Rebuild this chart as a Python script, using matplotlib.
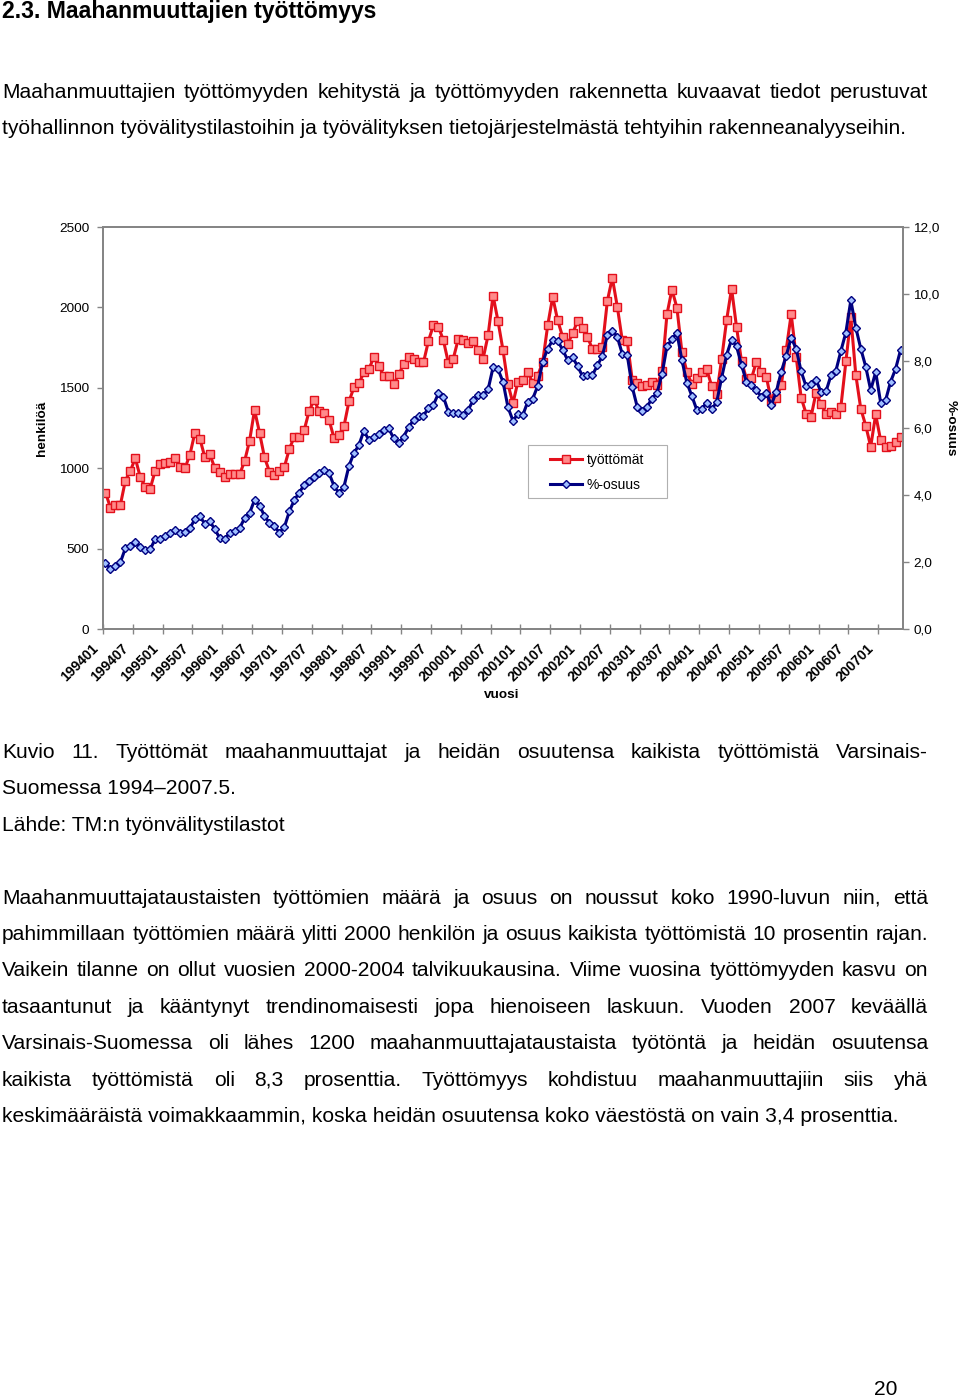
import matplotlib
matplotlib.use("Agg")
import matplotlib.pyplot as plt
from matplotlib.patches import Rectangle
from matplotlib.transforms import ScaledTranslation

plt.rcParams['font.family'] = ['Liberation Sans', 'DejaVu Sans']

# ---------------- data ----------------
tick_labels = ['199401', '199407', '199501', '199507', '199601', '199607', '199701',
               '199707', '199801', '199807', '199901', '199907', '200001', '200007',
               '200101', '200107', '200201', '200207', '200301', '200307', '200401',
               '200407', '200501', '200507', '200601', '200607', '200701']

# työttömät (henkilöä), monthly 1994/01 - 2007/05
unemployed = [
    848, 755, 772, 772, 923, 983, 1062, 944, 884, 873, 984, 1026,          # 1994
    1031, 1041, 1062, 1005, 1000, 1085, 1222, 1183, 1068, 1087, 1000, 975,  # 1995
    948, 962, 962, 962, 1044, 1171, 1362, 1221, 1067, 979, 958, 983,       # 1996
    1008, 1119, 1196, 1194, 1238, 1357, 1426, 1353, 1341, 1300, 1186, 1207,  # 1997
    1262, 1415, 1502, 1527, 1596, 1614, 1691, 1635, 1575, 1575, 1523, 1583,  # 1998
    1645, 1693, 1678, 1658, 1658, 1792, 1889, 1879, 1796, 1656, 1682, 1803,  # 1999
    1796, 1780, 1790, 1738, 1682, 1827, 2074, 1914, 1734, 1523, 1403, 1538,  # 2000
    1548, 1596, 1531, 1575, 1662, 1889, 2065, 1920, 1817, 1771, 1838, 1914,  # 2001
    1869, 1817, 1740, 1740, 1755, 2040, 2184, 2005, 1796, 1790, 1550, 1530,  # 2002
    1514, 1520, 1538, 1517, 1603, 1958, 2111, 1998, 1724, 1600, 1523, 1561,  # 2003
    1597, 1614, 1511, 1460, 1678, 1920, 2117, 1877, 1665, 1555, 1558, 1662,  # 2004
    1600, 1569, 1415, 1434, 1517, 1738, 1958, 1693, 1439, 1339, 1320, 1470,  # 2005
    1398, 1339, 1348, 1336, 1382, 1664, 1940, 1581, 1370, 1265, 1134, 1334,  # 2006
    1173, 1134, 1136, 1162, 1194,                                          # 2007
]

# %-osuus (share of all unemployed), monthly 1994/01 - 2007/05
share = [
    1.97, 1.79, 1.89, 1.99, 2.41, 2.48, 2.59, 2.46, 2.36, 2.38, 2.68, 2.68,
    2.78, 2.86, 2.96, 2.88, 2.91, 3.01, 3.28, 3.36, 3.14, 3.21, 2.98, 2.71,
    2.68, 2.88, 2.94, 3.01, 3.31, 3.46, 3.85, 3.68, 3.38, 3.16, 3.06, 2.88,
    3.04, 3.51, 3.85, 4.07, 4.31, 4.43, 4.55, 4.65, 4.75, 4.65, 4.27, 4.05,
    4.25, 4.87, 5.25, 5.49, 5.92, 5.64, 5.72, 5.82, 5.94, 5.99, 5.69, 5.54,
    5.74, 6.02, 6.24, 6.36, 6.36, 6.61, 6.69, 7.03, 6.93, 6.49, 6.44, 6.44,
    6.39, 6.54, 6.83, 6.98, 6.98, 7.15, 7.81, 7.75, 7.38, 6.62, 6.22, 6.42,
    6.39, 6.79, 6.88, 7.26, 7.98, 8.37, 8.62, 8.60, 8.34, 8.03, 8.11, 7.85,
    7.55, 7.58, 7.58, 7.87, 8.15, 8.77, 8.90, 8.73, 8.21, 8.18, 7.23, 6.64,
    6.51, 6.64, 6.88, 7.05, 7.60, 8.44, 8.65, 8.84, 8.03, 7.35, 6.96, 6.54,
    6.57, 6.76, 6.56, 6.77, 7.50, 8.18, 8.64, 8.44, 7.88, 7.38, 7.28, 7.13,
    6.93, 7.05, 6.69, 7.08, 7.68, 8.16, 8.69, 8.37, 7.69, 7.24, 7.30, 7.43,
    7.08, 7.09, 7.57, 7.71, 8.30, 8.85, 9.81, 9.00, 8.37, 7.83, 7.13, 7.67,
    6.76, 6.83, 7.38, 7.76, 8.32,
]

left_ticks = [0, 500, 1000, 1500, 2000, 2500]
right_ticks = [0, 2, 4, 6, 8, 10, 12]

# ---------------- figure ----------------
W, H = 960, 1399
fig = plt.figure(figsize=(W / 100, H / 100), dpi=100)
fig.patch.set_facecolor('white')

def px(x, y):
    return x / W, 1 - y / H

ax_l, ax_r, ax_t, ax_b = 103, 903, 227, 629
ax = fig.add_axes([ax_l / W, 1 - ax_b / H, (ax_r - ax_l) / W, (ax_b - ax_t) / H])
ax2 = ax.twinx()

n = len(unemployed)
xs = list(range(n))

red_line = '#e3101c'
red_face = '#ff8a8a'
navy = '#000080'
blue_face = '#9fbfff'

l1, = ax.plot(xs, unemployed, color=red_line, lw=2.2, marker='s', ms=5.8,
              mfc=red_face, mec=red_line, mew=1.0, label='työttömät')
l2, = ax2.plot(xs, share, color=navy, lw=2.2, marker='D', ms=4.4,
               mfc=blue_face, mec=navy, mew=1.0, label='%-osuus')

grey = '#858585'
for a in (ax, ax2):
    for s in a.spines.values():
        s.set_color(grey)
        s.set_linewidth(1.3)

ax.set_yticks(left_ticks)
ax.set_yticklabels([str(v) for v in left_ticks])
ax2.set_yticks(right_ticks)
ax2.set_yticklabels([f"{v:.1f}".replace('.', ',') for v in right_ticks])

ax.tick_params(axis='y', direction='out', length=4, width=1, color=grey,
               labelsize=9.7, pad=6)
ax2.tick_params(axis='y', direction='out', length=4, width=1, color=grey,
                labelsize=9.7, pad=3.5)

# tick marks between categories, labels every 6 months
ax.set_xticks([6 * k - 0.5 for k in range(len(tick_labels) + 1)])
ax.set_xticklabels([])
ax.tick_params(axis='x', which='major', direction='inout', length=7, width=1, color=grey)
ax.set_xticks([6 * k for k in range(len(tick_labels))], minor=True)
ax.set_xticklabels(tick_labels, minor=True, rotation=45, ha='right', va='center',
                   rotation_mode='anchor', fontsize=10, fontweight='bold')
ax.tick_params(axis='x', which='minor', length=0, pad=12.5)
shift = ScaledTranslation(-9 / 100, 0, fig.dpi_scale_trans)
for lab in ax.get_xticklabels(minor=True):
    lab.set_transform(lab.get_transform() + shift)

ax.set_xlim(-0.5, n - 0.5)
ax.set_ylim(0, 2500)
ax2.set_ylim(0, 12)

fig.text(*px(502, 695), 'vuosi', ha='center', va='center', fontsize=9.7, fontweight='bold')
fig.text(*px(42, 428), 'henkilöä', ha='center', va='center', rotation=90,
         fontsize=9.7, fontweight='bold')
fig.text(*px(951, 428), '%-osuus', ha='center', va='center', rotation=270,
         fontsize=9.7, fontweight='bold')

# legend: frame drawn as a rectangle, entries placed inside
frame = Rectangle(px(528, 498), (667 - 528) / W, (498 - 445) / H,
                  transform=fig.transFigure, fill=True, facecolor='white',
                  edgecolor='#b0b0b0', linewidth=0.8, zorder=4)
ax2.add_patch(frame)
leg = ax2.legend(handles=[l1, l2], loc='upper left',
                 bbox_to_anchor=px(550, 453), bbox_transform=fig.transFigure,
                 fontsize=10, frameon=False, handlelength=2.3,
                 borderpad=0.0, labelspacing=0.8, handletextpad=0.35, borderaxespad=0)
leg.set_zorder(6)

# ---------------- page text ----------------
r = fig.canvas.get_renderer()

def width_of(s, fs, weight='normal'):
    t = fig.text(0, 0, s, fontsize=fs, fontweight=weight)
    w = t.get_window_extent(r).width
    t.remove()
    return w

ref = "työhallinnon työvälitystilastoihin ja työvälityksen tietojärjestelmästä tehtyihin rakenneanalyyseihin."
fs_body = 10 * 908 / width_of(ref, 10)
title = "2.3. Maahanmuuttajien työttömyys"
fs_title = 10 * 376 / width_of(title, 10, 'bold')

X0, X1 = 2, 928

def line(s, yc, justify=False, fs=None, weight='normal'):
    fs = fs or fs_body
    yb = yc + 0.33 * fs * 100 / 72
    if not justify:
        fig.text(*px(X0, yb), s, fontsize=fs, fontweight=weight, va='baseline', ha='left')
        return
    words = s.split(' ')
    ws = [width_of(w, fs, weight) for w in words]
    gap = (X1 - X0 - sum(ws)) / (len(words) - 1)
    x = X0
    for w, wd in zip(words, ws):
        fig.text(*px(x, yb), w, fontsize=fs, fontweight=weight, va='baseline', ha='left')
        x += wd + gap

line(title, 10, fs=fs_title, weight='bold')

line("Maahanmuuttajien työttömyyden kehitystä ja työttömyyden rakennetta kuvaavat tiedot perustuvat", 91, True)
line(ref, 127)

line("Kuvio 11. Työttömät maahanmuuttajat ja heidän osuutensa kaikista työttömistä Varsinais-", 751, True)
line("Suomessa 1994–2007.5.", 787)
line("Lähde: TM:n työnvälitystilastot", 824)

p2 = [
    ("Maahanmuuttajataustaisten työttömien määrä ja osuus on noussut koko 1990-luvun niin, että", True),
    ("pahimmillaan työttömien määrä ylitti 2000 henkilön ja osuus kaikista työttömistä 10 prosentin rajan.", True),
    ("Vaikein tilanne on ollut vuosien 2000-2004 talvikuukausina. Viime vuosina työttömyyden kasvu on", True),
    ("tasaantunut ja kääntynyt trendinomaisesti jopa hienoiseen laskuun. Vuoden 2007 keväällä", True),
    ("Varsinais-Suomessa oli lähes 1200 maahanmuuttajataustaista työtöntä ja heidän osuutensa", True),
    ("kaikista työttömistä oli 8,3 prosenttia. Työttömyys kohdistuu maahanmuuttajiin siis yhä", True),
    ("keskimääräistä voimakkaammin, koska heidän osuutensa koko väestöstä on vain 3,4 prosenttia.", False),
]
ys = [897, 933, 969, 1006, 1042, 1079, 1115]
for (s, j), y in zip(p2, ys):
    line(s, y, j)

fig.text(*px(897, 1388 + 0.33 * fs_body * 100 / 72), "20", fontsize=fs_body, ha='right', va='baseline')

fig.savefig('out.png', dpi=100, facecolor='white')
